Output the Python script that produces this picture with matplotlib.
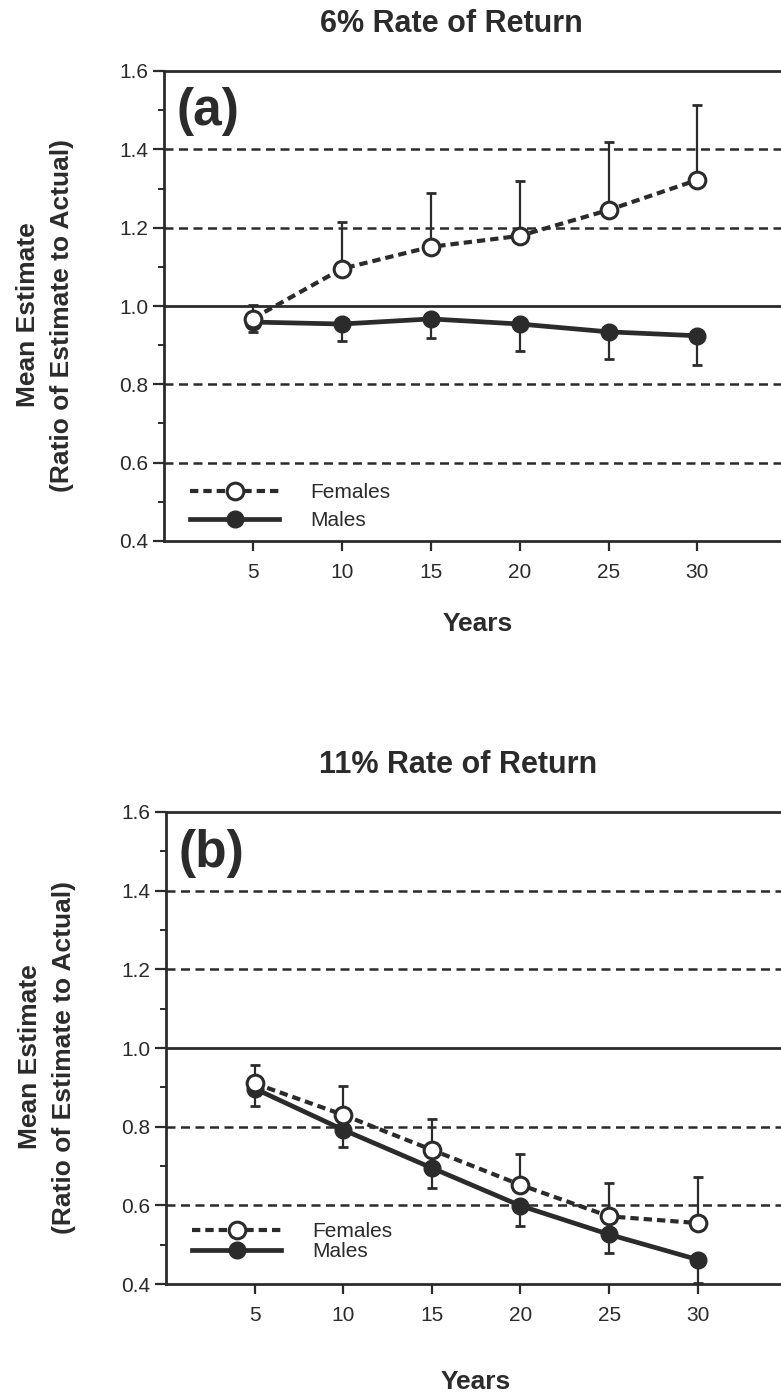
import matplotlib
matplotlib.use("Agg")
from matplotlib import pyplot as plt
from matplotlib.lines import Line2D
from matplotlib.ticker import MultipleLocator

plt.rcParams['font.family'] = ['Liberation Sans', 'DejaVu Sans']

ink = '#2b2b2b'

years = [5, 10, 15, 20, 25, 30]

# panel (a): 6% rate of return
a_fem = [0.968, 1.095, 1.151, 1.179, 1.245, 1.322]
a_fem_up = [0.034, 0.119, 0.138, 0.140, 0.174, 0.191]
a_male = [0.959, 0.954, 0.967, 0.954, 0.934, 0.924]
a_male_dn = [0.026, 0.043, 0.049, 0.068, 0.069, 0.075]

# panel (b): 11% rate of return
b_fem = [0.910, 0.830, 0.741, 0.652, 0.572, 0.555]
b_fem_up = [0.046, 0.073, 0.078, 0.078, 0.085, 0.117]
b_male = [0.897, 0.792, 0.695, 0.599, 0.526, 0.462]
b_male_dn = [0.045, 0.043, 0.051, 0.052, 0.047, 0.059]

ref_dashed = [0.6, 0.8, 1.2, 1.4]
ref_solid = 1.0
yticks = [0.4, 0.6, 0.8, 1.0, 1.2, 1.4, 1.6]

fem_style = dict(color=ink, lw=3, ls=(0, (2, 1.2)), marker='o', ms=12,
                 mfc='white', mec=ink, mew=2.2)
male_style = dict(color=ink, lw=3.4, ls='-', marker='o', ms=12,
                  mfc=ink, mec=ink)

fig = plt.figure(figsize=(7.81, 13.94), dpi=100)
ax1 = fig.add_axes([164/781, 1-541/1394, 1-164/781, 470/1394])
ax2 = fig.add_axes([166/781, 1-1284/1394, 1-166/781, 472/1394])


def panel(ax, fem, fem_up, male, male_dn, tag, leg_y, leg_space):
    for y in ref_dashed:
        ax.axhline(y, color=ink, lw=1.8, ls=(0, (3.6, 2.2)), zorder=1)
    ax.axhline(ref_solid, color=ink, lw=2, zorder=1)

    zeros = [0] * len(years)
    ax.errorbar(years, male, yerr=[male_dn, zeros], fmt='none', ecolor=ink,
                elinewidth=1.6, capsize=3.8, capthick=2, zorder=2)
    ax.errorbar(years, fem, yerr=[zeros, fem_up], fmt='none', ecolor=ink,
                elinewidth=1.6, capsize=3.8, capthick=2, zorder=2)
    ax.plot(years, male, zorder=3, **male_style)
    ax.plot(years, fem, zorder=4, **fem_style)

    ax.set_xlim(0, 34.7)
    ax.set_ylim(0.4, 1.6)
    ax.set_xticks(years)
    ax.set_yticks(yticks)
    ax.set_yticklabels(['%.1f' % v for v in yticks])
    ax.yaxis.set_minor_locator(MultipleLocator(0.1))
    ax.tick_params(axis='y', which='major', length=8, width=1.6, pad=3.5,
                   labelsize=15, colors=ink)
    ax.tick_params(axis='y', which='minor', length=4, width=1.4, colors=ink)
    ax.tick_params(axis='x', length=7, width=1.6, pad=9, labelsize=15,
                   colors=ink)
    ax.spines['right'].set_visible(False)
    for s in ['left', 'bottom', 'top']:
        ax.spines[s].set_linewidth(2)
        ax.spines[s].set_color(ink)

    ax.text(0.021, 0.913, tag, transform=ax.transAxes, fontsize=37,
            fontweight='bold', color=ink, ha='left', va='center')

    handles = [Line2D([], [], **fem_style), Line2D([], [], **male_style)]
    ax.legend(handles, ['Females', 'Males'], loc='center left',
              bbox_to_anchor=(0.042, leg_y), frameon=False, borderpad=0,
              borderaxespad=0, handlelength=4.3, handletextpad=1.5,
              numpoints=1, fontsize=15, labelspacing=leg_space,
              labelcolor=ink)


panel(ax1, a_fem, a_fem_up, a_male, a_male_dn, '(a)', 0.073, 0.45)
panel(ax2, b_fem, b_fem_up, b_male, b_male_dn, '(b)', 0.090, 0.05)

fig.text(451/781, 1-24/1394, '6% Rate of Return', fontsize=22,
         fontweight='bold', color=ink, ha='center', va='center')
fig.text(458/781, 1-765/1394, '11% Rate of Return', fontsize=22,
         fontweight='bold', color=ink, ha='center', va='center')

ylab = 'Mean Estimate\n(Ratio of Estimate to Actual)'
fig.text(45/781, 1-315/1394, ylab, fontsize=19, fontweight='bold',
         color=ink, ha='center', va='center', rotation=90, linespacing=1.5)
fig.text(47/781, 1-1057/1394, ylab, fontsize=19, fontweight='bold',
         color=ink, ha='center', va='center', rotation=90, linespacing=1.5)

fig.text(478/781, 1-624/1394, 'Years', fontsize=19, fontweight='bold',
         color=ink, ha='center', va='center')
fig.text(476/781, 1-1382/1394, 'Years', fontsize=19, fontweight='bold',
         color=ink, ha='center', va='center')

fig.savefig('out.png', dpi=100)
